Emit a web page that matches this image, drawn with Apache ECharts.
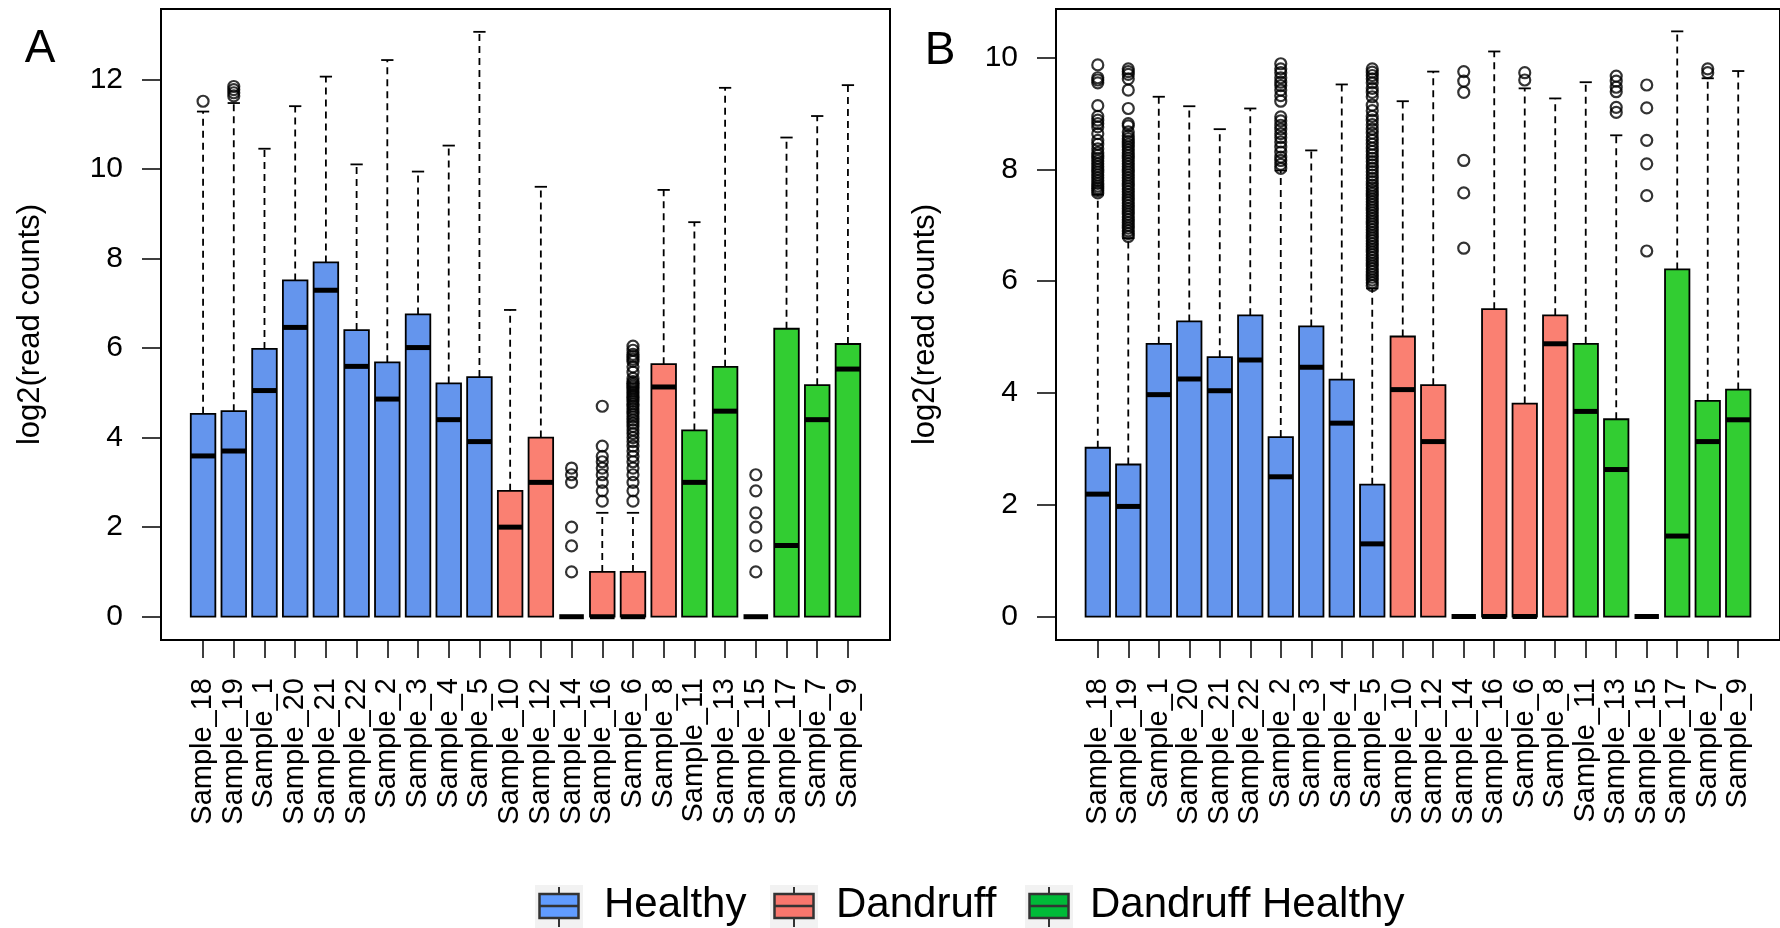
<!DOCTYPE html>
<html><head><meta charset="utf-8">
<script src="https://cdn.jsdelivr.net/npm/echarts@6/dist/echarts.min.js"></script>
<style>html,body{margin:0;padding:0;background:#fff}#c{width:1780px;height:928px}</style>
</head><body><div id="c"></div>
<script>
// ---------------- data ----------------
const samples = ['Sample_18','Sample_19','Sample_1','Sample_20','Sample_21','Sample_22','Sample_2','Sample_3','Sample_4','Sample_5',
  'Sample_10','Sample_12','Sample_14','Sample_16','Sample_6','Sample_8',
  'Sample_11','Sample_13','Sample_15','Sample_17','Sample_7','Sample_9'];
const sampleGroup = [0,0,0,0,0,0,0,0,0,0, 1,1,1,1,1,1, 2,2,2,2,2,2];
const groupNames = ['Healthy','Dandruff','Dandruff Healthy'];
const yAxisTitle = 'log2(read counts)';
const panelLabels = ['A','B'];

// Panel A
const aQ1 = [0,0,0,0,0,0,0,0,0,0,0,0,0,0,0,0,0,0,0,0,0,0];
const aMedian = [3.59,3.70,5.05,6.46,7.29,5.59,4.86,6.01,4.40,3.91,2.00,3.00,0,0,0,5.13,3.00,4.59,0,1.59,4.40,5.53];
const aQ3 = [4.53,4.59,5.98,7.51,7.91,6.40,5.68,6.75,5.21,5.35,2.81,4.00,0,1.00,1.00,5.64,4.16,5.58,0,6.43,5.17,6.09];
const aWhiskerTop = [11.28,11.47,10.45,11.40,12.06,10.10,12.43,9.94,10.52,13.06,6.85,9.60,0,2.32,2.32,9.53,8.81,11.81,0,10.70,11.18,11.87];
const aOutliers = [
  [11.51],
  [11.63,11.70,11.77,11.84],
  [],[],[],[],[],[],[],[],
  [],[],
  [1.00,1.58,2.00,3.00,3.17,3.32],
  [2.58,2.81,3.00,3.17,3.32,3.46,3.58,3.81,4.70],
  [2.58,2.81,3.00,3.17,3.32,3.46,3.58,3.70,3.81,3.91,4.00,4.09,4.17,4.25,4.32,4.39,4.46,4.52,4.58,4.64,4.70,4.75,4.81,4.86,4.91,4.95,5.00,5.04,5.09,5.13,5.17,5.21,5.25,5.32,5.46,5.58,5.70,5.75,5.81,5.86,5.95,6.04],
  [],
  [],[],
  [1.00,1.58,2.00,2.32,2.81,3.17],
  [],[],[]
];
const aTicks = [0,2,4,6,8,10,12];

// Panel B
const bQ1 = [0,0,0,0,0,0,0,0,0,0,0,0,0,0,0,0,0,0,0,0,0,0];
const bMedian = [2.19,1.97,3.97,4.25,4.04,4.59,2.50,4.46,3.46,1.30,4.06,3.13,0,0,0,4.88,3.67,2.63,0,1.44,3.13,3.52];
const bQ3 = [3.02,2.72,4.88,5.28,4.64,5.39,3.21,5.19,4.24,2.36,5.01,4.14,0,5.50,3.81,5.39,4.88,3.53,0,6.21,3.86,4.06];
const bWhiskerTop = [7.55,6.77,9.30,9.13,8.72,9.09,7.98,8.34,9.52,5.87,9.22,9.75,0,10.11,9.45,9.27,9.56,8.61,0,10.47,9.63,9.76];
const bOutliers = [
  [7.58,7.62,7.66,7.70,7.75,7.80,7.85,7.90,7.95,8.00,8.05,8.10,8.15,8.20,8.25,8.30,8.37,8.45,8.52,8.64,8.76,8.82,8.88,8.95,9.14,9.55,9.60,9.64,9.87],
  [6.80,6.85,6.90,6.95,7.00,7.05,7.10,7.15,7.20,7.25,7.30,7.35,7.40,7.45,7.50,7.55,7.60,7.65,7.70,7.75,7.80,7.85,7.90,7.95,8.00,8.05,8.10,8.15,8.20,8.25,8.30,8.35,8.40,8.45,8.50,8.55,8.60,8.67,8.78,8.82,9.09,9.42,9.62,9.70,9.75,9.80],
  [],[],[],[],
  [8.02,8.09,8.16,8.22,8.31,8.40,8.49,8.57,8.64,8.72,8.79,8.87,8.94,9.22,9.32,9.42,9.50,9.56,9.64,9.73,9.80,9.89],
  [],[],
  [5.92,5.97,6.02,6.07,6.12,6.17,6.22,6.27,6.32,6.37,6.42,6.47,6.52,6.57,6.62,6.67,6.72,6.77,6.82,6.87,6.92,6.97,7.02,7.07,7.12,7.17,7.22,7.27,7.32,7.37,7.42,7.47,7.52,7.57,7.62,7.67,7.72,7.78,7.84,7.90,7.96,8.02,8.08,8.14,8.20,8.26,8.32,8.38,8.45,8.52,8.58,8.65,8.72,8.80,8.88,8.95,9.05,9.15,9.30,9.38,9.45,9.55,9.62,9.68,9.74,9.80],
  [],[],
  [6.59,7.58,8.16,9.38,9.58,9.75],
  [],
  [9.60,9.73],
  [],[],
  [9.02,9.11,9.39,9.47,9.58,9.67],
  [6.54,7.53,8.10,8.52,9.10,9.51],
  [],
  [9.73,9.80],
  []
];
const bTicks = [0,2,4,6,8,10];

// ---------------- styles ----------------
const boxColors = ['#6495ED','#FA8072','#32CD32'];
const legendColors = ['#619CFF','#F8766D','#00BA38'];
const FONT = '"Liberation Sans", Arial, Helvetica, sans-serif';
const positions = samples.map((s,i)=>i+1);

function boxData(q1, med, q3, wt){
  return samples.map((s,i)=>[positions[i], q1[i], med[i], q3[i], wt[i], sampleGroup[i]]);
}
function outlierData(out){
  const r = [];
  out.forEach((arr,i)=>arr.forEach(v=>r.push([positions[i], v])));
  return r;
}
function renderBox(params, api){
  const x = api.value(0), q1 = api.value(1), med = api.value(2), q3 = api.value(3), wt = api.value(4), g = api.value(5);
  const bw = api.size([0.8, 0])[0];
  const pQ1 = api.coord([x, q1]), pMed = api.coord([x, med]), pQ3 = api.coord([x, q3]), pW = api.coord([x, wt]);
  const cx = pQ1[0];
  const ch = [];
  if (wt > q3) {
    ch.push({type:'line', shape:{x1:cx, y1:pQ3[1], x2:cx, y2:pW[1]}, style:{stroke:'#000', lineWidth:1.8, lineDash:[7,5]}});
    ch.push({type:'line', shape:{x1:cx-bw/4, y1:pW[1], x2:cx+bw/4, y2:pW[1]}, style:{stroke:'#000', lineWidth:1.8}});
  }
  if (q3 > q1) {
    ch.push({type:'rect', shape:{x:cx-bw/2, y:pQ3[1], width:bw, height:pQ1[1]-pQ3[1]}, style:{fill:boxColors[g], stroke:'#000', lineWidth:1.8}});
  }
  ch.push({type:'line', shape:{x1:cx-bw/2, y1:pMed[1], x2:cx+bw/2, y2:pMed[1]}, style:{stroke:'#000', lineWidth:5}});
  return {type:'group', children: ch};
}

function xAxisCfg(gi){
  return {type:'value', gridIndex:gi, min:-0.37, max:23.37,
    axisLine:{show:false, onZero:false}, splitLine:{show:false},
    axisTick:{customValues:positions, length:18, lineStyle:{color:'#000', width:1.5}},
    axisLabel:{customValues:positions, formatter:v=>samples[Math.round(v)-1], rotate:90, margin:38,
      fontSize:29, color:'#000', fontFamily:FONT}};
}
function yAxisCfg(gi, min, max, ticks){
  return {type:'value', gridIndex:gi, min:min, max:max,
    axisLine:{show:false, onZero:false}, splitLine:{show:false},
    axisTick:{customValues:ticks, length:19, lineStyle:{color:'#000', width:1.5}},
    axisLabel:{customValues:ticks, margin:38, fontSize:30, color:'#000', fontFamily:FONT},
    name:yAxisTitle, nameLocation:'middle', nameRotate:90, nameGap:115,
    nameTextStyle:{fontSize:31, color:'#000', fontFamily:FONT}};
}

// legend graphics
const legendBg = [535, 770, 1025];
const legendTextX = [604, 836, 1090];
const legendEls = [];
groupNames.forEach((name,i)=>{
  const bx = legendBg[i];
  legendEls.push({type:'rect', shape:{x:bx, y:885, width:48, height:43}, style:{fill:'#F2F2F2'}});
  legendEls.push({type:'line', shape:{x1:bx+24, y1:887, x2:bx+24, y2:927}, style:{stroke:'#333', lineWidth:2}});
  legendEls.push({type:'rect', shape:{x:bx+4.5, y:894, width:39, height:24}, style:{fill:legendColors[i], stroke:'#333', lineWidth:2.5}});
  legendEls.push({type:'line', shape:{x1:bx+4.5, y1:906, x2:bx+43.5, y2:906}, style:{stroke:'#333', lineWidth:2.5}});
  legendEls.push({type:'text', x:legendTextX[i], y:905, style:{text:name, fontSize:42, fontFamily:FONT, fill:'#000', verticalAlign:'middle', align:'left'}});
});
legendEls.push({type:'text', x:40, y:49, style:{text:panelLabels[0], fontSize:46, fontFamily:FONT, fill:'#000', align:'center', verticalAlign:'middle'}});
legendEls.push({type:'text', x:940, y:51, style:{text:panelLabels[1], fontSize:46, fontFamily:FONT, fill:'#000', align:'center', verticalAlign:'middle'}});

const chart = echarts.init(document.getElementById('c'), null, {renderer:'canvas'});
chart.setOption({
  animation:false,
  backgroundColor:'#fff',
  grid:[
    {left:161, top:9, width:729, height:631, show:true, borderColor:'#000', borderWidth:2, backgroundColor:'transparent'},
    {left:1056, top:9, width:729, height:631, show:true, borderColor:'#000', borderWidth:2, backgroundColor:'transparent'}
  ],
  xAxis:[xAxisCfg(0), xAxisCfg(1)],
  yAxis:[yAxisCfg(0, -0.52, 13.57, aTicks), yAxisCfg(1, -0.42, 10.87, bTicks)],
  series:[
    {type:'custom', name:'A boxes', xAxisIndex:0, yAxisIndex:0, data:boxData(aQ1,aMedian,aQ3,aWhiskerTop), renderItem:renderBox, encode:{x:0, y:[1,2,3,4]}, clip:false, silent:true},
    {type:'scatter', name:'A outliers', xAxisIndex:0, yAxisIndex:0, data:outlierData(aOutliers), symbol:'circle', symbolSize:11,
      itemStyle:{color:'rgba(0,0,0,0)', borderColor:'#000', borderWidth:2.2}, silent:true, z:3},
    {type:'custom', name:'B boxes', xAxisIndex:1, yAxisIndex:1, data:boxData(bQ1,bMedian,bQ3,bWhiskerTop), renderItem:renderBox, encode:{x:0, y:[1,2,3,4]}, clip:false, silent:true},
    {type:'scatter', name:'B outliers', xAxisIndex:1, yAxisIndex:1, data:outlierData(bOutliers), symbol:'circle', symbolSize:11,
      itemStyle:{color:'rgba(0,0,0,0)', borderColor:'#000', borderWidth:2.2}, silent:true, z:3}
  ],
  graphic:legendEls
});
</script>
</body></html>
